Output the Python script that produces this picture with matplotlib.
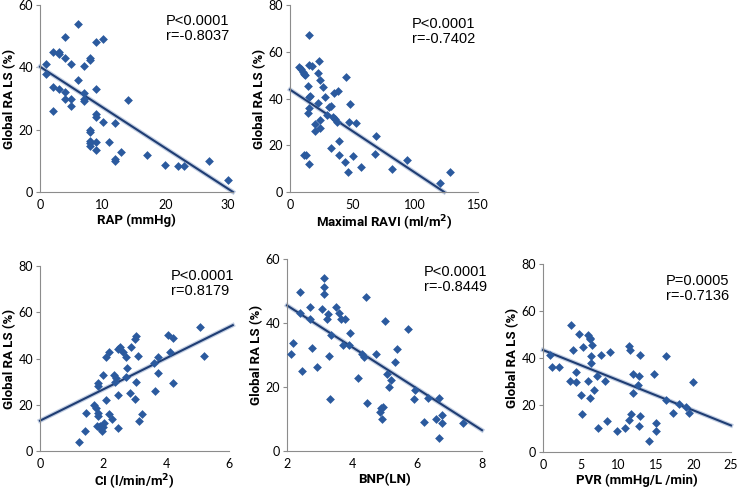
import matplotlib
matplotlib.use("Agg")
import matplotlib.pyplot as plt
import numpy as np

plt.rcParams["font.family"] = ["Lato", "DejaVu Sans"]

# ---- data ----
rap_x = [1, 1, 2, 2, 2, 3, 3, 3, 4, 4, 4, 4, 5, 5, 5, 6, 6, 7, 7, 7, 7,
         8, 8, 8, 8, 8, 8, 8, 9, 9, 9, 9, 9, 9, 10, 10, 11, 12, 12, 12, 13,
         14, 17, 20, 22, 23, 27, 30]
rap_y = [41, 38, 45, 33.8, 26, 45, 44.3, 33, 49.6, 43, 32, 30, 41, 30, 27.6,
         54, 36, 40.4, 31.8, 30, 29.3, 42.9, 42.4, 20, 19.2, 16.4, 15.6, 14.8,
         48, 33, 24.9, 24, 16, 13.6, 49, 22.6, 16.2, 22, 10.7, 9.8, 12.9,
         29.4, 12, 8.8, 8.5, 8.5, 10, 3.9]

ravi_x = [15.4, 7, 8.5, 10, 11, 12, 15.4, 17.5, 23.4, 22.6, 23.6, 26, 14, 16.2,
          15.4, 38, 35.3, 28, 45, 48, 22.6, 15.4, 14, 32.4, 31.3, 29.5, 34, 36,
          37.7, 47.3, 53, 24, 20, 24, 20, 69, 39.3, 32.4, 39.3, 50, 11.5, 13,
          15.4, 44, 46.5, 56.6, 68, 81.5, 93.5, 120, 128]
ravi_y = [67.1, 53.5, 52.5, 51.5, 50.5, 50, 54.4, 54, 56.1, 51.1, 48, 45, 45.2,
          41, 40.6, 43.2, 42.5, 40.5, 49.3, 37.8, 38.1, 36, 33.6, 36.8, 36.3,
          33.1, 32.2, 31.4, 30, 30, 29.5, 30.7, 29.3, 27.5, 26, 23.8, 22, 18.8,
          16, 15.2, 15.9, 15.7, 11.9, 12.7, 8.6, 10.9, 16.4, 9.9, 13.5, 4, 8.4]

ci_x = [1.24, 1.43, 1.45, 1.71, 1.78, 1.83, 1.83, 1.84, 1.85, 1.82, 1.87, 1.97,
        2.0, 2.02, 1.92, 2.0, 2.1, 2.1, 2.2, 2.2, 2.3, 2.35, 2.4, 2.38, 2.47,
        2.47, 2.48, 2.53, 2.63, 2.74, 2.75, 2.74, 2.85, 2.9, 3.0, 3.04, 3.1,
        3.04, 3.03, 3.13, 3.23, 3.63, 3.65, 3.74, 3.76, 4.07, 4.13, 4.21,
        4.21, 5.09, 5.21]
ci_y = [4, 8.6, 16.5, 20, 18.8, 29.5, 28, 16.5, 15, 11, 10.3, 8.8, 10.3, 12,
        11, 33, 40.5, 22, 43, 16, 13.7, 32.8, 31.5, 30, 24.2, 10, 44.2, 45,
        43, 40.8, 36, 31.8, 25, 44.8, 48.5, 49.6, 41, 30, 22.7, 13, 16, 38,
        26, 40.8, 33.7, 50, 42.8, 49, 29.5, 53.8, 41]

bnp_x = [2.12, 2.18, 2.39, 2.39, 2.47, 2.7, 2.7, 2.76, 2.93, 3.07, 3.13, 3.13,
         3.13, 3.22, 3.25, 3.29, 3.31, 3.36, 3.52, 3.59, 3.67, 3.71, 3.79, 3.9,
         3.93, 4.18, 4.31, 4.36, 4.44, 4.47, 4.74, 4.85, 4.88, 4.94, 4.92,
         5.02, 5.08, 5.14, 5.19, 5.31, 5.37, 5.72, 5.94, 5.91, 6.2, 6.33, 6.58,
         6.69, 6.68, 6.76, 6.78, 7.42]
bnp_y = [30.2, 33.8, 49.7, 43.2, 25, 45.1, 41.2, 32.1, 26.1, 44.5, 54.1, 51.1,
         49.1, 41.2, 42.7, 29.6, 16.2, 36.1, 45.1, 43.2, 41.2, 33.1, 41.2, 33.1,
         37, 22.8, 30.2, 29.3, 48, 15.1, 30.2, 12.2, 13.3, 13.9, 10.1, 40.7,
         24.2, 20, 22.1, 27.8, 32, 38, 19.2, 16.2, 9.2, 16.7, 10.1, 16.5, 4.1,
         11.1, 8.6, 8.6]

pvr_x = [0.93, 1.24, 2.17, 3.6, 3.72, 4.03, 4.34, 4.43, 4.79, 5.05, 5.14, 5.36,
         6.03, 6.2, 6.3, 5.98, 6.25, 6.43, 6.47, 6.43, 6.83, 7.2, 7.3, 7.67,
         8.3, 8.47, 8.87, 9.8, 10.86, 11.4, 11.52, 11.4, 11.7, 11.92, 11.92,
         12.6, 12.7, 12.7, 12.9, 12.9, 14.05, 14.72, 15.03, 14.98, 16.3, 16.4,
         17.24, 18.1, 19.0, 19.4, 20]
pvr_y = [41.3, 36.2, 36.2, 30.4, 54.2, 43.4, 33.9, 29.7, 50.1, 24.2, 16.3, 44.5,
         49.9, 48.7, 48, 30.4, 23.1, 41, 45.4, 38, 26.2, 32.3, 10.1, 41.3, 30.4,
         13.4, 42.7, 8.9, 10.3, 45.2, 43.4, 13.8, 16.3, 33.2, 25.2, 28.3, 32.3,
         11.1, 41.3, 15.2, 4.5, 33.2, 12.4, 9, 22.3, 40.7, 16.5, 20.3, 19.3,
         16.8, 29.6]

# trend lines as drawn in the figure: intercept, slope, x range
trend_lines = [(40.2, -1.305, (0, 30.8)),
               (43.8, -0.356, (0, 123)),
               (13.1, 6.75, (0, 6.12)),
               (58.5, -6.5, (2, 8)),
               (43.4, -1.284, (0, 25))]

xlabels = ["RAP (mmHg)", "Maximal RAVI (ml/m$\\mathbf{^2}$)",
           "CI (l/min/m$\\mathbf{^2}$)", "BNP(LN)", "PVR (mmHg/L /min)"]
stats = ["P<0.0001\nr=-0.8037", "P<0.0001\nr=-0.7402", "P<0.0001\nr=0.8179",
         "P<0.0001\nr=-0.8449", "P=0.0005\nr=-0.7136"]
xlims = [(0, 30.8), (0, 150), (0, 6), (2, 8), (0, 25)]
xticks = [[0, 10, 20, 30], [0, 50, 100, 150], [0, 2, 4, 6], [2, 4, 6, 8],
          [0, 5, 10, 15, 20, 25]]
ylims = [(0, 60), (0, 80), (0, 80), (0, 60), (0, 80)]
yticks = [[0, 20, 40, 60], [0, 20, 40, 60, 80], [0, 20, 40, 60, 80],
          [0, 20, 40, 60], [0, 20, 40, 60, 80]]
xs = [rap_x, ravi_x, ci_x, bnp_x, pvr_x]
ys = [rap_y, ravi_y, ci_y, bnp_y, pvr_y]

# axes boxes in pixels: left, top, right, bottom
boxes = [(40, 5, 233, 192), (290, 5, 478, 192), (40, 266, 229, 451),
         (287, 259, 482, 451), (543, 264, 731, 452)]
# stats text anchor (left, top) in pixels
text_pos = [(166, 14), (412, 17), (171, 269), (424, 265), (666, 274)]

W, H = 738, 493
fig = plt.figure(figsize=(W / 100, H / 100), dpi=100)

marker_col = "#2B5A9E"
line_col = "#1F3D73"
axis_col = "#8C8C8C"
bold_font = ["Roboto", "DejaVu Sans"]

for i in range(5):
    l, t, r, b = boxes[i]
    ax = fig.add_axes([l / W, 1 - b / H, (r - l) / W, (b - t) / H])
    ax.scatter(xs[i], ys[i], marker="D", s=20, color=marker_col, zorder=3,
               linewidths=0)
    c, k, frange = trend_lines[i]
    fx = np.array(frange)
    ax.plot(fx, c + k * fx, color="#C3CFE3", lw=3.2, zorder=2, clip_on=False)
    ax.plot(fx, c + k * fx, color=line_col, lw=1.5, zorder=2, clip_on=False)
    ax.set_xlim(*xlims[i])
    ax.set_ylim(*ylims[i])
    ax.set_xticks(xticks[i])
    ax.set_yticks(yticks[i])
    for s in ["top", "right"]:
        ax.spines[s].set_visible(False)
    for s in ["left", "bottom"]:
        ax.spines[s].set_color(axis_col)
        ax.spines[s].set_linewidth(0.8)
    ax.tick_params(axis="both", colors=axis_col, labelcolor="black",
                   labelsize=9, length=3, width=0.8, pad=2)
    ax.tick_params(axis="x", length=0, pad=5)
    ax.set_xlabel(xlabels[i], fontsize=9.5, fontweight="bold", labelpad=2,
                  family=bold_font)
    ax.set_ylabel("Global RA LS (%)", fontsize=9.5, fontweight="bold",
                  labelpad=2, family=bold_font)
    fig.text(text_pos[i][0] / W, 1 - text_pos[i][1] / H, stats[i],
             fontsize=10.5, va="top", linespacing=1.1,
             family=["Liberation Sans", "DejaVu Sans"])

fig.savefig("out.png", dpi=100)
